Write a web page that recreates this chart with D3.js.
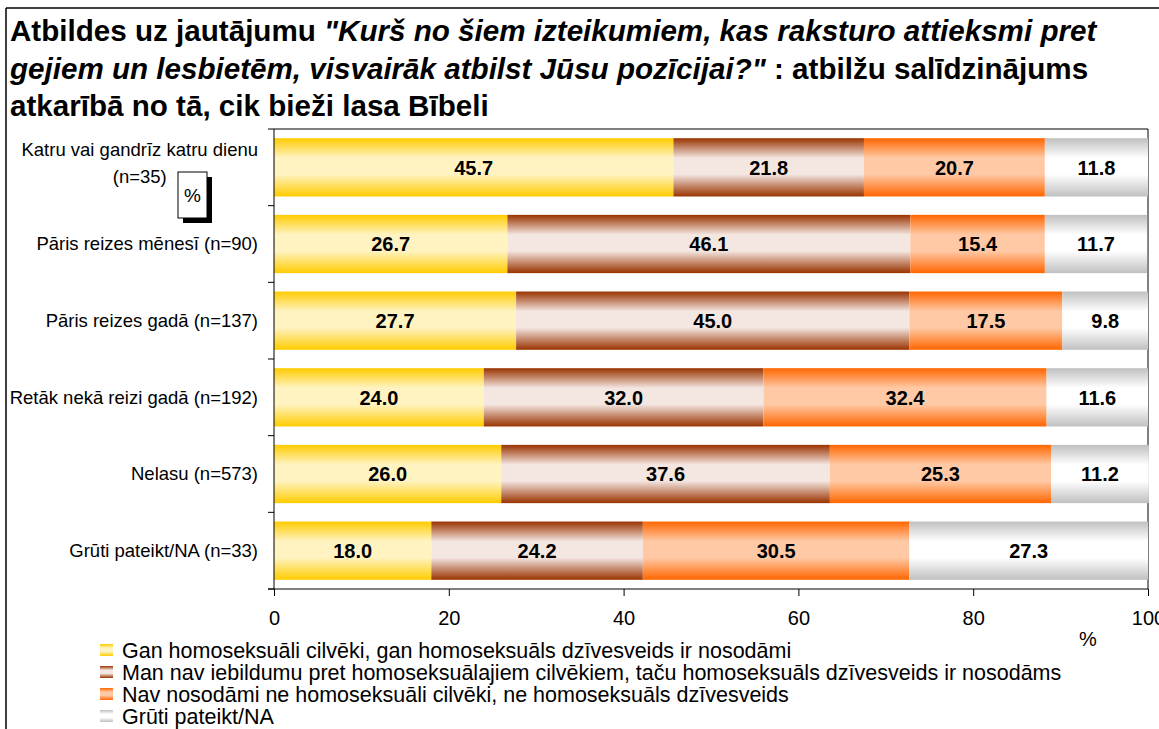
<!DOCTYPE html>
<html>
<head>
<meta charset="utf-8">
<script src="https://cdn.jsdelivr.net/npm/d3@7"></script>
<style>
  body { margin: 0; background: #fff; }
  text { font-family: "Liberation Sans", Arial, sans-serif; }
</style>
</head>
<body>
<div id="chart"></div>
<script>
// categories (top to bottom)
var categories = [
  "Katru vai gandrīz katru dienu (n=35)",
  "Pāris reizes mēnesī (n=90)",
  "Pāris reizes gadā (n=137)",
  "Retāk nekā reizi gadā (n=192)",
  "Nelasu (n=573)",
  "Grūti pateikt/NA (n=33)"
];
var seriesNames = [
  "Gan homoseksuāli cilvēki, gan homoseksuāls dzīvesveids ir nosodāmi",
  "Man nav iebildumu pret homoseksuālajiem cilvēkiem, taču homoseksuāls dzīvesveids ir nosodāms",
  "Nav nosodāmi ne homoseksuāli cilvēki, ne homoseksuāls dzīvesveids",
  "Grūti pateikt/NA"
];
var condemnBoth   = [45.7, 26.7, 27.7, 24.0, 26.0, 18.0];
var condemnLife   = [21.8, 46.1, 45.0, 32.0, 37.6, 24.2];
var condemnNone   = [20.7, 15.4, 17.5, 32.4, 25.3, 30.5];
var hardToSay     = [11.8, 11.7,  9.8, 11.6, 11.2, 27.3];
var xTicks = [0, 20, 40, 60, 80, 100];

// gradient colours: edge, centre
var colors = [
  ["#FFCC00", "#FFF3C2"],
  ["#993300", "#F4E6E1"],
  ["#FF6600", "#FFC9A6"],
  ["#C0C0C0", "#FFFFFF"]
];

var width = 1159, height = 729;
var svg = d3.select("#chart").append("svg")
  .attr("width", width).attr("height", height);

var defs = svg.append("defs");
colors.forEach(function (c, i) {
  var g = defs.append("linearGradient").attr("id", "grad" + i)
    .attr("x1", 0).attr("y1", 0).attr("x2", 0).attr("y2", 1);
  g.append("stop").attr("offset", 0).attr("stop-color", c[0]);
  g.append("stop").attr("offset", 0.34).attr("stop-color", c[1]);
  g.append("stop").attr("offset", 0.62).attr("stop-color", c[1]);
  g.append("stop").attr("offset", 1).attr("stop-color", c[0]);
});

// outer frame
svg.append("line").attr("x1", 6).attr("x2", 6).attr("y1", 8).attr("y2", height)
  .attr("stroke", "#000").attr("stroke-width", 1.5);
svg.append("line").attr("x1", 6).attr("x2", width).attr("y1", 8).attr("y2", 8)
  .attr("stroke", "#000").attr("stroke-width", 1.5);

// title
var title = svg.append("text").attr("x", 10).attr("font-size", 29.6).attr("font-weight", "bold");
var t1 = title.append("tspan").attr("x", 10).attr("y", 41);
t1.append("tspan").text("Atbildes uz jautājumu ");
t1.append("tspan").attr("font-style", "italic").text("\"Kurš no šiem izteikumiem, kas raksturo attieksmi pret");
var t2 = title.append("tspan").attr("x", 10).attr("y", 79);
t2.append("tspan").attr("font-style", "italic").text("gejiem un lesbietēm, visvairāk atbilst Jūsu pozīcijai?\"");
t2.append("tspan").text(" : atbilžu salīdzinājums");
title.append("tspan").attr("x", 10).attr("y", 116).text("atkarībā no tā, cik bieži lasa Bībeli");

// scales
var x = d3.scaleLinear().domain([0, 100]).range([274, 1148]);
var y = d3.scaleBand().domain(categories).range([129, 589])
  .paddingInner(0.24).paddingOuter(0.12);

var series = [condemnBoth, condemnLife, condemnNone, hardToSay];
var rows = categories.map(function (c, i) {
  var o = { cat: c };
  series.forEach(function (s, k) { o["s" + k] = s[i]; });
  return o;
});
var stack = d3.stack().keys(["s0", "s1", "s2", "s3"])(rows);

// plot border (top + right)
svg.append("path")
  .attr("d", "M" + x(0) + "," + y.range()[0] + "H" + x(100) + "V" + y.range()[1])
  .attr("fill", "none").attr("stroke", "#000").attr("stroke-width", 1);

// bars
var layer = svg.selectAll(".layer").data(stack).enter().append("g")
  .attr("class", "layer")
  .attr("fill", function (d, i) { return "url(#grad" + i + ")"; });

layer.selectAll("rect").data(function (d) { return d; }).enter().append("rect")
  .attr("x", function (d) { return x(d[0]); })
  .attr("y", function (d) { return y(d.data.cat); })
  .attr("width", function (d) { return x(d[1]) - x(d[0]); })
  .attr("height", y.bandwidth());

layer.selectAll("text").data(function (d) { return d; }).enter().append("text")
  .attr("x", function (d) { return (x(d[0]) + x(d[1])) / 2; })
  .attr("y", function (d) { return y(d.data.cat) + y.bandwidth() / 2; })
  .attr("dy", "0.36em")
  .attr("text-anchor", "middle")
  .attr("font-size", 20).attr("font-weight", "bold").attr("fill", "#000")
  .text(function (d) { return (d[1] - d[0]).toFixed(1); });

// y axis: line + ticks at band boundaries
var r = y.range(), step = (r[1] - r[0]) / categories.length;
svg.append("line").attr("x1", x(0)).attr("x2", x(0)).attr("y1", r[0]).attr("y2", r[1])
  .attr("stroke", "#000");
d3.range(categories.length + 1).forEach(function (i) {
  svg.append("line").attr("x1", x(0) - 6).attr("x2", x(0))
    .attr("y1", r[0] + i * step).attr("y2", r[0] + i * step).attr("stroke", "#000");
});

// category labels
categories.forEach(function (c, i) {
  var cy = y(c) + y.bandwidth() / 2;
  if (i == 0) {
    var l1 = svg.append("text").attr("x", 258).attr("y", 150).attr("dy", "0.35em")
      .attr("text-anchor", "end").attr("font-size", 18.5).text("Katru vai gandrīz katru dienu");
    var w = l1.node().getComputedTextLength();
    svg.append("text").attr("x", 258 - w / 2).attr("y", 177).attr("dy", "0.35em")
      .attr("text-anchor", "middle").attr("font-size", 18.5).text("(n=35)");
  } else {
    svg.append("text").attr("x", 258).attr("y", cy).attr("dy", "0.35em")
      .attr("text-anchor", "end").attr("font-size", 18.5).text(c);
  }
});

// "%" box
svg.append("rect").attr("x", 183).attr("y", 177).attr("width", 29).attr("height", 46).attr("fill", "#000");
svg.append("rect").attr("x", 178).attr("y", 172).attr("width", 29).attr("height", 46)
  .attr("fill", "#fff").attr("stroke", "#000");
svg.append("text").attr("x", 192.5).attr("y", 195).attr("dy", "0.35em")
  .attr("text-anchor", "middle").attr("font-size", 19).text("%");

// x axis
var xAxis = svg.append("g").attr("transform", "translate(0," + r[1] + ")")
  .call(d3.axisBottom(x).tickValues(xTicks).tickSize(7).tickSizeOuter(0));
xAxis.select(".domain").remove();
xAxis.append("line").attr("x1", x(0) - 6).attr("x2", x(100)).attr("stroke", "#000");
xAxis.selectAll(".tick line").attr("stroke", "#000");
xAxis.selectAll(".tick text")
  .attr("y", 36).attr("dy", 0)
  .attr("font-family", "Liberation Sans, Arial, sans-serif")
  .attr("font-size", 20).attr("fill", "#000");

svg.append("text").attr("x", 1088).attr("y", 646).attr("text-anchor", "middle")
  .attr("font-size", 20).text("%");

// legend
var legend = svg.selectAll(".legend").data(seriesNames).enter().append("g")
  .attr("class", "legend")
  .attr("transform", function (d, i) { return "translate(100," + (650 + i * 22) + ")"; });
legend.append("rect").attr("x", 0).attr("y", -6).attr("width", 13).attr("height", 12)
  .attr("fill", function (d, i) { return "url(#grad" + i + ")"; });
legend.append("text").attr("x", 22).attr("dy", "0.36em").attr("font-size", 21.5)
  .text(function (d) { return d; });
</script>
</body>
</html>
